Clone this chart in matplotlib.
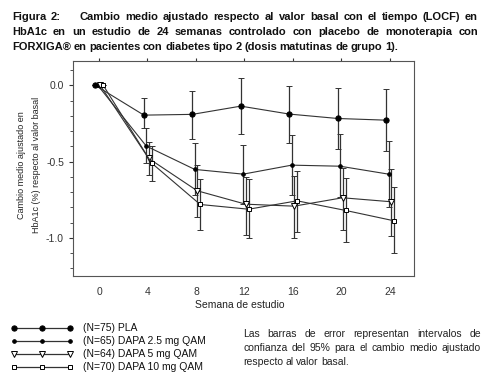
import matplotlib
matplotlib.use("Agg")
import matplotlib.pyplot as plt
from matplotlib.ticker import MultipleLocator

# Data (week, mean change, 95% CI)
weeks = [0, 4, 8, 12, 16, 20, 24]
series_names = ["(N=75) PLA", "(N=65) DAPA 2.5 mg QAM", "(N=64) DAPA 5 mg QAM", "(N=70) DAPA 10 mg QAM"]
pla = [0.0, -0.195, -0.19, -0.136, -0.188, -0.217, -0.228]
pla_lo = [0.0, -0.28, -0.354, -0.32, -0.376, -0.414, -0.43]
pla_hi = [0.0, -0.085, -0.035, 0.046, -0.003, -0.02, -0.026]
d25 = [0.0, -0.398, -0.551, -0.582, -0.523, -0.53, -0.582]
d25_lo = [0.0, -0.51, -0.72, -0.779, -0.72, -0.73, -0.796]
d25_hi = [0.0, -0.28, -0.381, -0.39, -0.324, -0.32, -0.363]
d5 = [0.0, -0.479, -0.691, -0.779, -0.792, -0.737, -0.763]
d5_lo = [0.0, -0.59, -0.866, -0.98, -1.004, -0.95, -0.989]
d5_hi = [0.0, -0.37, -0.523, -0.6, -0.595, -0.54, -0.547]
d10 = [0.0, -0.51, -0.781, -0.812, -0.757, -0.82, -0.888]
d10_lo = [0.0, -0.628, -0.95, -1.004, -0.96, -1.03, -1.098]
d10_hi = [0.0, -0.398, -0.617, -0.617, -0.56, -0.61, -0.669]

title_lines = [
    "Figura 2: Cambio medio ajustado respecto al valor basal con el tiempo (LOCF) en",
    "HbA1c en un estudio de 24 semanas controlado con placebo de monoterapia con",
    "FORXIGA® en pacientes con diabetes tipo 2 (dosis matutinas de grupo 1).",
]
note_lines = [
    "Las barras de error representan intervalos de",
    "confianza del 95% para el cambio medio ajustado",
    "respecto al valor basal.",
]

W, H = 484, 385
fig = plt.figure(figsize=(W / 100, H / 100), dpi=100)
fig.patch.set_facecolor("white")
plt.rcParams["font.family"] = ["Liberation Sans Narrow", "Liberation Sans", "DejaVu Sans"]

ax = fig.add_axes([73 / W, 1 - 276 / H, (414 - 73) / W, (276 - 61) / H])

styles = [
    dict(marker="o", ms=3.8, mfc="black", mec="black"),
    dict(marker="o", ms=2.6, mfc="black", mec="black"),
    dict(marker="v", ms=3.8, mfc="white", mec="black"),
    dict(marker="s", ms=3.4, mfc="white", mec="black"),
]
offsets = [-0.3, -0.1, 0.1, 0.35]
data = [(pla, pla_lo, pla_hi), (d25, d25_lo, d25_hi), (d5, d5_lo, d5_hi), (d10, d10_lo, d10_hi)]

for (m, lo, hi), st, off in zip(data, styles, offsets):
    xs = [w + off for w in weeks]
    err = [[v - l for v, l in zip(m, lo)], [h - v for v, h in zip(m, hi)]]
    ax.errorbar(xs, m, yerr=err, color="#333333", lw=0.8, elinewidth=0.9,
                capsize=2, capthick=0.8, mew=0.7, **st)

ax.set_xlim(-2.15, 26)
ax.set_ylim(-1.25, 0.16)
ax.set_xticks(weeks)
ax.yaxis.set_major_locator(MultipleLocator(0.5))
ax.yaxis.set_minor_locator(MultipleLocator(0.1))
ax.tick_params(axis="y", which="major", length=3, width=0.8, labelsize=7.5, colors="#333333")
ax.tick_params(axis="y", which="minor", length=2, width=0.6, colors="#333333")
ax.tick_params(axis="x", top=True, bottom=False, labeltop=False, labelbottom=True,
               length=2, width=0.8, labelsize=7.5, pad=6, colors="#333333")
ax.set_yticks([0.0, -0.5, -1.0])
ax.set_yticklabels(["0.0", "-0.5", "-1.0"])
for sp in ax.spines.values():
    sp.set_color("#555555")
    sp.set_linewidth(0.8)

fig.text(240 / W, 1 - 305 / H, "Semana de estudio", ha="center", va="center", fontsize=7.5,
         color="#222222")
fig.text(22 / W, 1 - 165 / H, "Cambio medio ajustado en", rotation=90, ha="center",
         va="center", fontsize=6.5, color="#222222")
fig.text(37 / W, 1 - 165 / H, "HbA1c (%) respecto al valor basal", rotation=90, ha="center",
         va="center", fontsize=6.5, color="#222222")

renderer = fig.canvas.get_renderer()


def justify(line, x0, x1, y, extra=None, **kw):
    words = line.split()
    texts = [fig.text(0, 1 - y / H, w, va="baseline", ha="left", **kw) for w in words]
    widths = [t.get_window_extent(renderer).width for t in texts]
    extra = extra or {}
    gap = (x1 - x0 - sum(widths) - sum(extra.values())) / (len(words) - 1)
    x = x0
    for i, (t, wd) in enumerate(zip(texts, widths)):
        t.set_x(x / W)
        x += wd + gap + extra.get(i, 0)


def left_line(line, x0, y, gap_px, **kw):
    words = line.split()
    x = x0
    for w in words:
        t = fig.text(x / W, 1 - y / H, w, va="baseline", ha="left", **kw)
        x += t.get_window_extent(renderer).width + gap_px


tkw = dict(fontsize=8, fontweight="bold", color="#111111")
justify(title_lines[0], 12, 478, 20, extra={1: 14}, **tkw)
justify(title_lines[1], 12, 478, 35, **tkw)
left_line(title_lines[2], 12, 50, 2.5, **tkw)

nkw = dict(fontsize=7.5, color="#222222")
justify(note_lines[0], 243, 481, 337, **nkw)
justify(note_lines[1], 243, 481, 351, **nkw)
left_line(note_lines[2], 243, 365, 2.5, **nkw)

# legend drawn by hand below the plot
leg = fig.add_axes([0, 0, 1, 1], facecolor="none")
leg.set_xlim(0, W)
leg.set_ylim(H, 0)
leg.axis("off")
rows_y = [328, 341, 354, 367]
for name, st, ry in zip(series_names, styles, rows_y):
    leg.plot([14, 42, 70], [ry] * 3, color="#333333", lw=0.9, mew=0.7, **st)
    leg.text(83, ry, name, va="center", ha="left", fontsize=7.5, color="#111111")

fig.savefig("out.png", dpi=100, facecolor="white")
